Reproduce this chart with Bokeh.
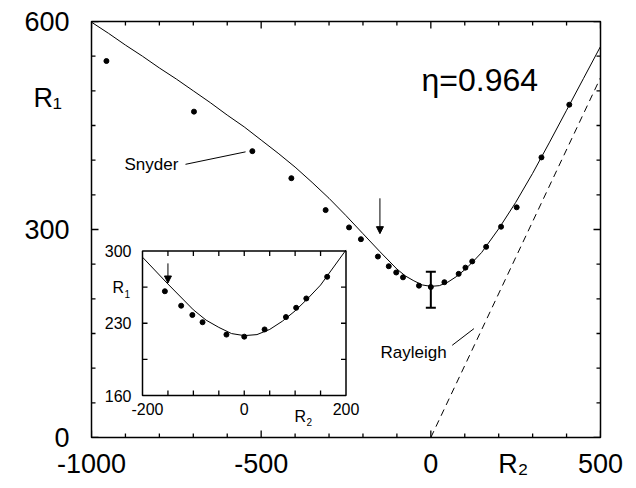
from bokeh.plotting import figure
from bokeh.models import (Range1d, LinearAxis, FixedTicker, Label, Arrow, NormalHead,
                          Whisker, TeeHead, ColumnDataSource)
from bokeh.core.properties import value
from bokeh.embed import file_html
from bokeh.resources import INLINE

# ---------------- data ----------------
curve_r2 = [-1000, -950, -900, -850, -800, -750, -700, -650, -600, -550, -500, -450, -400,
            -350, -300, -250, -200, -150, -100, -75, -50, -25, 0, 25, 50, 75, 100, 125,
            150, 200, 250, 300, 350, 400, 450, 500]
curve_r1 = [599, 583, 566, 550, 533, 517, 500, 483, 465, 448, 429, 410, 390,
            368, 345, 320, 294, 268, 243, 233, 226, 220, 218, 219, 224, 232, 242, 254,
            267, 301, 339, 381, 426, 472, 518, 564]

snyder_r2 = [-956, -698, -526, -411, -310, -241, -206, -156, -124, -102, -82, -35, 0,
             40, 82, 102, 122, 163, 207, 253, 326, 408]
snyder_r1 = [543, 470, 413, 374, 328, 303, 286, 261, 247, 238, 231, 219, 217,
             224, 236, 245, 254, 275, 304, 332, 404, 480]

rayleigh_r2 = [0, 500]
rayleigh_r1 = [0, 519]

err_r2 = [0]
err_lo = [187]
err_hi = [239]

arrow_r2 = [-150]
arrow_main_top = [345]
arrow_main_tip = [294]
arrow_inset_top = [288]
arrow_inset_tip = [269]

x_ticks = [-1000, -500, 0, 500]
x_minor = [-900, -800, -700, -600, -400, -300, -200, -100, 100, 200, 300, 400]
x_labels = ["-1000", "-500", "0", "500"]
y_ticks = [0, 300, 600]
y_minor = [50, 100, 150, 200, 250, 350, 400, 450, 500, 550]
y_labels = ["0", "300", "600"]
x_title, x_title_at = "R\u2082", 232
y_title, y_title_at = "R\u2081", 490

inset_x_range = [-200, 200]
inset_y_range = [160, 300]
inset_x_ticks = [-150, -100, -50, 0, 50, 100, 150]
inset_y_ticks = [195, 230, 265]
inset_x_labels = [-200, 0, 200]
inset_y_labels = [160, 230, 300]

snyder_note_r2 = [-723, -546]
snyder_note_r1 = [394, 412]
rayleigh_note_r2 = [63, 127]
rayleigh_note_r1 = [133, 157]

FONT = "Liberation Sans"

# ---------------- geometry (pixels) ----------------
W, H = 636, 488
FL, FR, FT, FB = 91, 600, 21, 437          # main frame
IL, IR, IT, IB = 142, 345.5, 250.5, 395     # inset frame
X0, X1, Y0, Y1 = -1000, 500, 0, 600

def dx(px):
    return X0 + (px - FL) * (X1 - X0) / (FR - FL)

def dy(py):
    return Y0 + (FB - py) * (Y1 - Y0) / (FB - FT)

p = figure(width=W, height=H, x_range=Range1d(X0, X1), y_range=Range1d(Y0, Y1),
           output_backend="svg", toolbar_location=None, x_axis_type=None, y_axis_type=None,
           min_border_left=FL, min_border_right=W - FR, min_border_top=FT,
           min_border_bottom=H - FB)
p.outline_line_color = "black"
p.outline_line_width = 1.5
p.background_fill_color = "white"
p.border_fill_color = "white"

def label_axis(ticks, labels, standoff):
    ax = LinearAxis(ticker=FixedTicker(ticks=ticks, minor_ticks=[]))
    ax.axis_line_color = None
    ax.major_tick_in = 0
    ax.major_tick_out = 0
    ax.major_tick_line_color = None
    ax.minor_tick_line_color = None
    ax.major_label_overrides = {t: s for t, s in zip(ticks, labels)}
    ax.major_label_text_font = FONT
    ax.major_label_text_font_size = "27px"
    ax.major_label_text_color = "black"
    ax.major_label_standoff = standoff
    return ax

p.add_layout(label_axis(x_ticks + [x_title_at], x_labels + ["\u00a0" + x_title], 11), "below")
p.add_layout(label_axis(y_ticks + [y_title_at], y_labels + [y_title + "\u00a0"], 22), "left")

# inward tick marks on all four sides of a frame
ux = (X1 - X0) / (FR - FL)
uy = (Y1 - Y0) / (FB - FT)

def frame_ticks(xr, yr, xt, yt, uxx, uyy, length, **kw):
    xs0, xs1, ys0, ys1 = [], [], [], []
    for t in xt:
        xs0 += [t, t]
        xs1 += [t, t]
        ys0 += [yr[0], yr[1]]
        ys1 += [yr[0] + length * uyy, yr[1] - length * uyy]
    for t in yt:
        xs0 += [xr[0], xr[1]]
        xs1 += [xr[0] + length * uxx, xr[1] - length * uxx]
        ys0 += [t, t]
        ys1 += [t, t]
    src = ColumnDataSource(dict(x0=xs0, y0=ys0, x1=xs1, y1=ys1))
    p.segment(x0="x0", y0="y0", x1="x1", y1="y1", source=src,
              line_color="black", line_width=1.3, **kw)

frame_ticks([X0, X1], [Y0, Y1], x_ticks, y_ticks, ux, uy, 7)
frame_ticks([X0, X1], [Y0, Y1], x_minor, y_minor, ux, uy, 4)

# ---------------- main plot ----------------
p.line(curve_r2, curve_r1, line_color="black", line_width=1)
p.line(rayleigh_r2, rayleigh_r1, line_color="black", line_width=1, line_dash="7 5")
p.scatter(snyder_r2, snyder_r1, size=5, color="black")
p.add_layout(Whisker(source=ColumnDataSource(dict(x=err_r2, lo=err_lo, hi=err_hi)),
                     base="x", lower="lo", upper="hi", line_width=2,
                     upper_head=TeeHead(size=10, line_width=2),
                     lower_head=TeeHead(size=10, line_width=2)))
p.add_layout(Arrow(source=ColumnDataSource(dict(x=arrow_r2, y0=arrow_main_top, y1=arrow_main_tip)),
                   x_start="x", y_start="y0", x_end="x", y_end="y1", line_width=1,
                   end=NormalHead(size=7, fill_color="black", line_color="black", line_width=1)))
p.segment(x0=[snyder_note_r2[0]], y0=[snyder_note_r1[0]], x1=[snyder_note_r2[1]],
          y1=[snyder_note_r1[1]], line_color="black", line_width=1)
p.segment(x0=[rayleigh_note_r2[0]], y0=[rayleigh_note_r1[0]], x1=[rayleigh_note_r2[1]],
          y1=[rayleigh_note_r1[1]], line_color="black", line_width=1)

def label(px, py, text, size, align="left", baseline="alphabetic"):
    p.add_layout(Label(x=dx(px), y=dy(py), text=text, text_font=FONT, text_font_size=size,
                       text_align=align, text_baseline=baseline, text_color="black"))

label(124, 164, "Snyder", "17px", baseline="middle")
label(380, 352, "Rayleigh", "17px", baseline="middle")
label(421, 79, "\u03b7=0.964", "32px")

# ---------------- inset (drawn through its own ranges) ----------------
upx = (inset_x_range[1] - inset_x_range[0]) / (IR - IL)
upy = (inset_y_range[1] - inset_y_range[0]) / (IB - IT)
p.extra_x_ranges = {"ix": Range1d(inset_x_range[0] - (IL - FL) * upx,
                                  inset_x_range[1] + (FR - IR) * upx)}
p.extra_y_ranges = {"iy": Range1d(inset_y_range[0] - (FB - IB) * upy,
                                  inset_y_range[1] + (IT - FT) * upy)}
kw = dict(x_range_name="ix", y_range_name="iy")

p.quad(left=[inset_x_range[0]], right=[inset_x_range[1]], bottom=[inset_y_range[0]],
       top=[inset_y_range[1]], fill_color="white", line_color="black", line_width=1.5, **kw)
frame_ticks(inset_x_range, inset_y_range, inset_x_ticks, inset_y_ticks, upx, upy, 5, **kw)

ic = [(a, b) for a, b in zip(curve_r2, curve_r1) if inset_x_range[0] <= a <= inset_x_range[1]]
p.line([a for a, b in ic], [b for a, b in ic], line_color="black", line_width=1, **kw)
idots = [(a, b) for a, b in zip(snyder_r2, snyder_r1) if inset_x_range[0] <= a <= inset_x_range[1]]
p.scatter([a for a, b in idots], [b for a, b in idots], size=5, color="black", **kw)
p.add_layout(Whisker(source=ColumnDataSource(dict(x=err_r2, lo=err_lo, hi=err_hi)),
                     base="x", lower="lo", upper="hi", line_width=2,
                     upper_head=TeeHead(size=10, line_width=2),
                     lower_head=TeeHead(size=10, line_width=2), **kw))
p.add_layout(Arrow(source=ColumnDataSource(dict(x=arrow_r2, y0=arrow_inset_top, y1=arrow_inset_tip)),
                   x_start="x", y_start="y0", x_end="x", y_end="y1", line_width=1,
                   end=NormalHead(size=7, fill_color="black", line_color="black", line_width=1), **kw))

p.text(x=inset_x_labels, y=[inset_y_range[0]] * len(inset_x_labels),
       text=[str(v) for v in inset_x_labels], y_offset=7, x_offset=[5, 0, 0], text_align="center",
       text_baseline="top", text_font=value(FONT), text_font_size="16px", text_color="black", **kw)
p.text(x=[inset_x_range[0]] * len(inset_y_labels), y=inset_y_labels,
       text=[str(v) for v in inset_y_labels], x_offset=-11, text_align="right",
       text_baseline="middle", text_font=value(FONT), text_font_size="16px", text_color="black", **kw)

label(112, 287, "R", "16px")
label(124, 293, "1", "10px")
label(294, 416, "R", "16px")
label(306, 421, "2", "10px")

open("out.html", "w").write(file_html(p, INLINE))
